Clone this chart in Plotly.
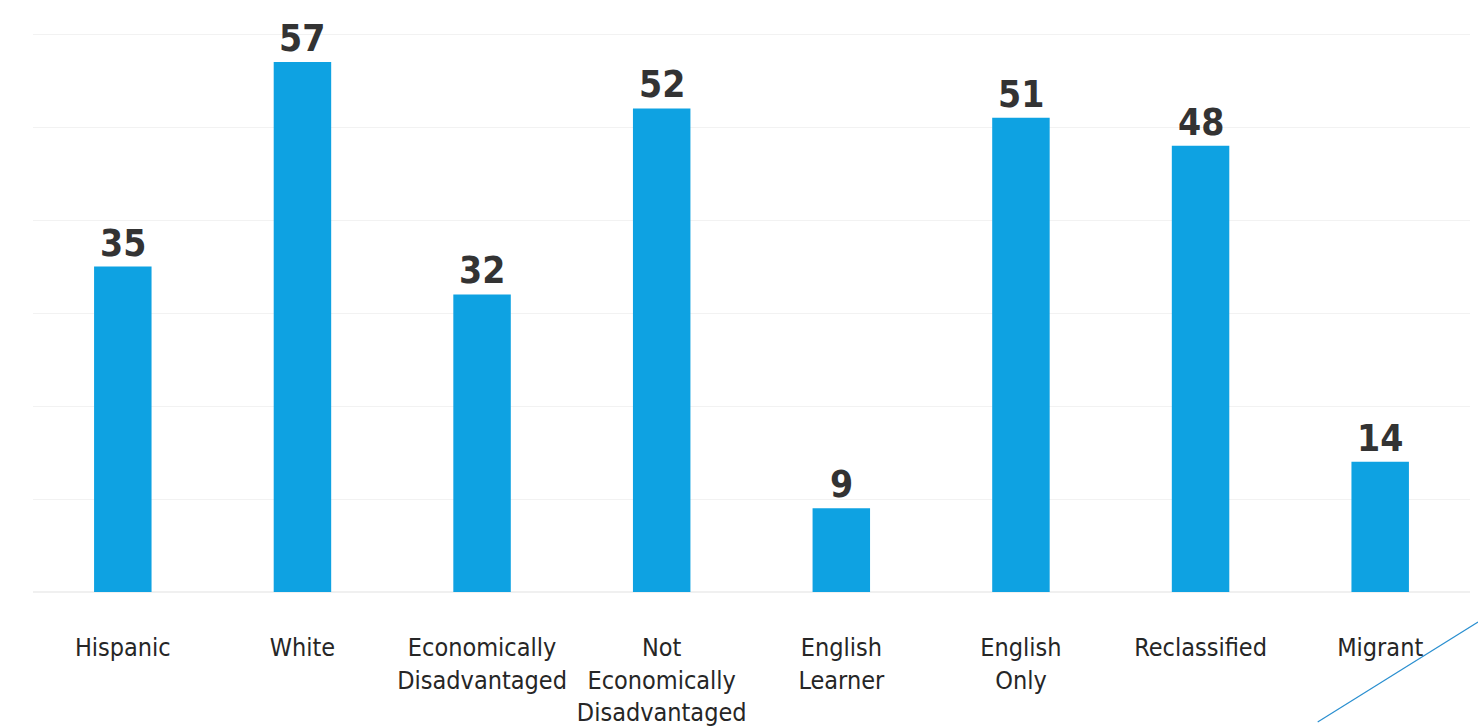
import plotly.graph_objects as go

categories = ["Hispanic", "White", "Economically<br>Disadvantaged",
              "Not<br>Economically<br>Disadvantaged", "English<br>Learner",
              "English<br>Only", "Reclassified", "Migrant"]
values = [35, 57, 32, 52, 9, 51, 48, 14]

BAR = "#0EA2E2"
TXT = "#333333"
FONT = "DejaVu Sans Condensed, DejaVu Sans, sans-serif"

fig = go.Figure(go.Bar(
    x=categories, y=values,
    marker=dict(color=BAR, line=dict(width=0)),
    width=0.32,
))

annotations = [dict(x=c, y=v, xref="x", yref="y", text=f"<b>{v}</b>",
                    showarrow=False, yanchor="bottom", yshift=0,
                    font=dict(family=FONT, size=37, color=TXT))
               for c, v in zip(categories, values)]

fig.update_layout(
    width=1478, height=726,
    margin=dict(l=33, r=8, t=8, b=134, autoexpand=False),
    paper_bgcolor="white", plot_bgcolor="white",
    showlegend=False,
    xaxis=dict(showgrid=False, showline=False, ticks="", tickangle=0,
               automargin=False,
               tickfont=dict(family=FONT, size=25, color="#262626"),
               ticklabelstandoff=38),
    yaxis=dict(range=[0, 62.8], dtick=10, showgrid=True, gridcolor="#F2F2F2",
               gridwidth=1, zeroline=True, zerolinecolor="#F0F0F0",
               showticklabels=False, showline=False, ticks="", automargin=False),
    annotations=annotations,
    shapes=[dict(type="line", xref="paper", yref="paper",
                 x0=0.894, y0=-0.2226, x1=1.0056, y1=-0.0514,
                 line=dict(color="#2A8FD0", width=1.2), layer="above")],
)

fig.write_html("out.html")
